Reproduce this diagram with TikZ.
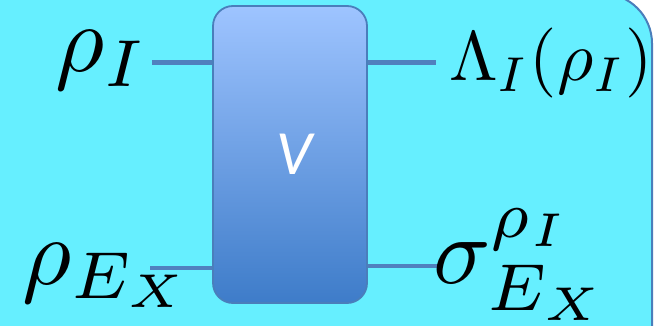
\RequirePackage{fix-cm}
\documentclass[tikz,border=0pt]{standalone}
\usepackage{graphicx}
\usepackage{fontspec}
\newfontfamily\vfont{Carlito}
\definecolor{bgcyan}{RGB}{102,239,255}
\definecolor{bordblue}{RGB}{74,126,187}
\definecolor{wireblue}{RGB}{80,128,190}
\definecolor{gatetop}{RGB}{158,196,255}
\definecolor{gatebot}{RGB}{62,124,201}
\tikzset{
  bg/.style={fill=bgcyan, draw=bordblue, line width=2pt, rounded corners=50pt},
  gate/.style={draw=bordblue, line width=1.8pt, rounded corners=20pt,
    top color=gatetop, bottom color=gatebot, minimum width=154pt,
    minimum height=297pt, inner sep=0pt, text=white,
    font=\vfont\itshape\fontsize{63}{70}\selectfont},
  wire/.style={draw=wireblue, line width=4.5pt},
  lbl/.style={inner sep=0pt, anchor=base west}
}
\newcommand{\lblbig}[1]{\scalebox{9.5}{$#1$}}
\newcommand{\lblmid}[1]{\scalebox{7.0}{$#1$}}
\begin{document}
\begin{tikzpicture}[x=1pt,y=-1pt]
\useasboundingbox (0,0) rectangle (663,326);
\clip (0,0) rectangle (663,326);
\fill[white] (0,0) rectangle (663,326);
\draw[bg] (-60,-6.5) rectangle (652,420);
\coordinate (inA) at (152,62.5);
\coordinate (inB) at (150,268);
\coordinate (outA) at (436,62.5);
\coordinate (outB) at (438,266);
\node[gate] (V) at (290,154.5) {\hspace*{8pt}V};
\draw[wire] (inA) -- (inA -| V.west);
\draw[wire] (inB) -- (inB -| V.west);
\draw[wire] (outA -| V.east) -- (outA);
\draw[wire] (outB -| V.east) -- (outB);
\node[lbl] (rhoI) at (55,72) {\lblbig{\rho_I}};
\node[lbl] (rhoE) at (22,284) {\lblbig{\rho_{E_X}}};
\node[lbl] (lam) at (449,81) {\lblmid{\Lambda_I(\rho_I)}};
\node[lbl] (sig) at (433,283) {\lblbig{\sigma_{E_X}^{\rho_I}}};
\end{tikzpicture}
\end{document}
